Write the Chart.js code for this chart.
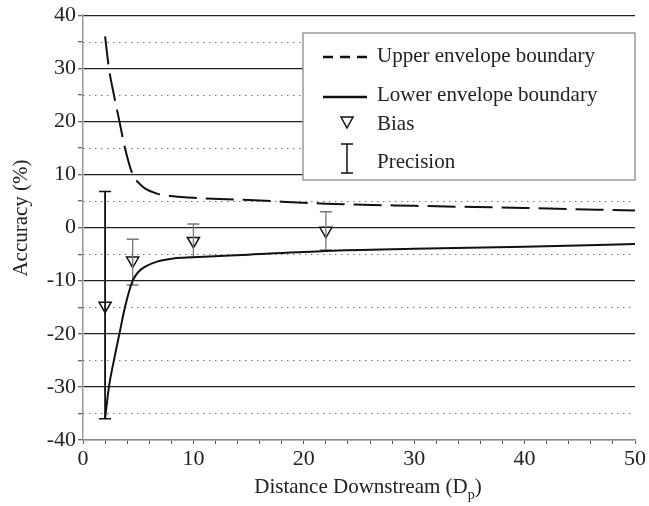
<!DOCTYPE html>
<html>
<head>
<meta charset="utf-8">
<script src="https://cdn.jsdelivr.net/npm/chart.js@4"></script>
<style>
  html, body { margin: 0; padding: 0; background: #fff; }
  #wrap { width: 649px; height: 506px; }
</style>
</head>
<body>
<div id="wrap"><canvas id="myChart"></canvas></div>
<script>
const envX = [2, 2.35, 2.8, 3.3, 3.8, 4.5, 5, 5.6, 6.7, 8.2, 10, 15, 22, 30, 40, 50];
const upperY = [36, 30, 25, 20, 15, 10, 8.5, 7.4, 6.4, 5.9, 5.6, 5.2, 4.5, 4.1, 3.7, 3.2];
const lowerY = [-36, -30, -25, -20, -15, -10, -8.4, -7.4, -6.4, -5.8, -5.6, -5.1, -4.4, -4.0, -3.6, -3.1];
const biasX = [2, 4.5, 10, 22];
const biasY = [-14.7, -6.2, -2.5, -0.6];
const precisionHi = [6.8, -2.2, 0.7, 3.0];
const precisionLo = [-36, -10.8, -5.6, -4.2];
const precisionColors = ["#111", "#777", "#777", "#777"];
const xTicks = [0, 10, 20, 30, 40, 50];
const yTicks = [-40, -30, -20, -10, 0, 10, 20, 30, 40];
const yMinor = [-35, -25, -15, -5, 5, 15, 25, 35];

const serif = "'Liberation Serif', 'Times New Roman', serif";
const pts = (xs, ys) => xs.map((x, i) => ({ x, y: ys[i] }));

const precisionSets = biasX.map((x, i) => ({
  data: [{ x, y: precisionHi[i] }, { x, y: precisionLo[i] }],
  showLine: true,
  borderColor: precisionColors[i],
  borderWidth: i === 0 ? 1.8 : 1.3,
  pointStyle: "line",
  pointRadius: 6,
  pointBorderColor: precisionColors[i],
  pointBorderWidth: 1.5,
}));

// dotted minor grid lines (per-line dash is not available on the grid)
const minorGrid = {
  id: "minorGrid",
  beforeDatasetsDraw(chart) {
    const c = chart.ctx, a = chart.chartArea, y = chart.scales.y;
    c.save();
    c.strokeStyle = "#777";
    c.lineWidth = 1;
    c.setLineDash([1.5, 4.5]);
    yMinor.forEach((v) => {
      const py = Math.round(y.getPixelForValue(v)) + 0.5;
      c.beginPath(); c.moveTo(a.left, py); c.lineTo(a.right, py); c.stroke();
    });
    c.restore();
  },
};

// hand-drawn legend box and axis titles (subscript p)
const extras = {
  id: "extras",
  afterDraw(chart) {
    const c = chart.ctx;
    c.save();
    c.fillStyle = "#222";
    c.font = "21px " + serif;
    c.textBaseline = "middle";
    c.textAlign = "center";
    c.save();
    c.translate(21, 218);
    c.rotate(-Math.PI / 2);
    c.fillText("Accuracy (%)", 0, 0);
    c.restore();

    const main = "Distance Downstream (D";
    c.font = "21px " + serif;
    const w1 = c.measureText(main).width;
    c.font = "14px " + serif;
    const w2 = c.measureText("p").width;
    c.font = "21px " + serif;
    const w3 = c.measureText(")").width;
    let x0 = 368 - (w1 + w2 + w3) / 2;
    c.textAlign = "left";
    c.fillText(main, x0, 487);
    c.font = "14px " + serif;
    c.fillText("p", x0 + w1, 495);
    c.font = "21px " + serif;
    c.fillText(")", x0 + w1 + w2, 487);

    // legend
    c.fillStyle = "#fff";
    c.fillRect(303, 33, 332, 147);
    c.strokeStyle = "#999";
    c.lineWidth = 1.5;
    c.strokeRect(303, 33, 332, 147);
    c.strokeStyle = "#111";
    c.lineWidth = 2.5;
    c.setLineDash([10, 7]);
    c.beginPath(); c.moveTo(323, 57); c.lineTo(367, 57); c.stroke();
    c.setLineDash([]);
    c.beginPath(); c.moveTo(323, 97); c.lineTo(367, 97); c.stroke();
    c.lineWidth = 1.5;
    c.beginPath(); c.moveTo(341, 117); c.lineTo(353, 117); c.lineTo(347, 128); c.closePath(); c.stroke();
    c.beginPath();
    c.moveTo(347, 144); c.lineTo(347, 173);
    c.moveTo(341, 144); c.lineTo(353, 144);
    c.moveTo(341, 173); c.lineTo(353, 173);
    c.stroke();
    c.fillStyle = "#222";
    c.font = "21px " + serif;
    c.fillText("Upper envelope boundary", 377, 56);
    c.fillText("Lower envelope boundary", 377, 95);
    c.fillText("Bias", 377, 124);
    c.fillText("Precision", 377, 162);
    c.restore();
  },
};

let chart = document.getElementById("myChart").getContext("2d");
new Chart(chart, {
  type: "scatter",
  data: {
    datasets: [
      {
        data: pts(envX, upperY),
        showLine: true,
        borderColor: "#111",
        borderWidth: 2,
        borderDash: [28, 9],
        pointRadius: 0,
        cubicInterpolationMode: "monotone",
      },
      {
        data: pts(envX, lowerY),
        showLine: true,
        borderColor: "#111",
        borderWidth: 2,
        pointRadius: 0,
        cubicInterpolationMode: "monotone",
      },
      ...precisionSets,
      {
        data: pts(biasX, biasY),
        showLine: false,
        pointStyle: "triangle",
        rotation: 180,
        pointRadius: 7,
        backgroundColor: "#fff",
        borderColor: "#111",
        borderWidth: 1.5,
      },
    ],
  },
  options: {
    responsive: true,
    maintainAspectRatio: false,
    animation: false,
    layout: { padding: { top: 14, right: 14, left: 0, bottom: 0 } },
    plugins: { legend: { display: false }, tooltip: { enabled: false } },
    scales: {
      x: {
        type: "linear",
        min: 0,
        max: 50,
        afterFit: (s) => { s.height = 66; },
        ticks: {
          stepSize: 2,
          autoSkip: false,
          maxRotation: 0,
          padding: 2,
          color: "#222",
          font: { family: serif, size: 22 },
          callback: (v) => (xTicks.includes(v) ? v : ""),
        },
        grid: { drawOnChartArea: false, tickLength: 4, tickColor: "#555" },
        border: { color: "#888", width: 1.5 },
      },
      y: {
        min: -40,
        max: 40,
        afterFit: (s) => { s.width = 83; },
        ticks: {
          stepSize: 5,
          autoSkip: false,
          padding: 2,
          color: "#222",
          font: { family: serif, size: 22 },
          callback: (v) => (yTicks.includes(v) ? v : ""),
        },
        grid: {
          color: (ctx) => (ctx.tick.value === -40 ? "#888" : ctx.tick.value % 10 === 0 ? "#222" : "rgba(0,0,0,0)"),
          lineWidth: 1.3,
          tickColor: "#666",
          tickLength: 5,
        },
        border: { color: "#999", width: 1.5 },
      },
    },
  },
  plugins: [minorGrid, extras],
});
</script>
</body>
</html>
